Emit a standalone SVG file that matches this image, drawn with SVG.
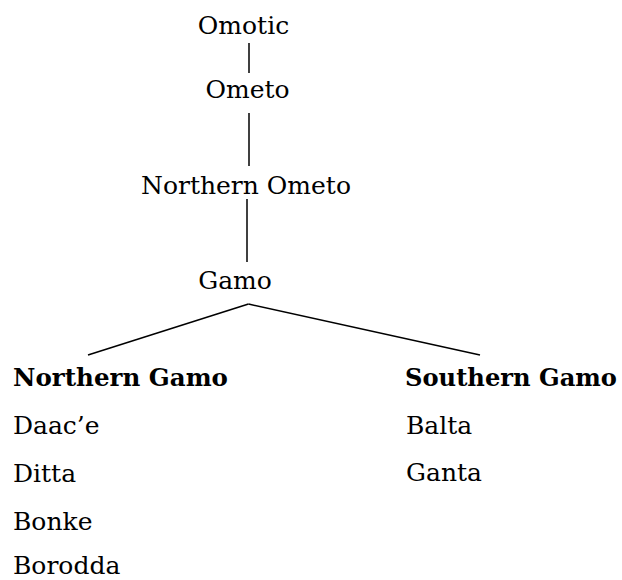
<svg xmlns="http://www.w3.org/2000/svg" width="622" height="580" viewBox="0 0 622 580">
<style>
text{font-family:"DejaVu Serif","Liberation Serif",serif;font-size:25px;fill:#000}
.c{text-anchor:middle}
.b{font-weight:bold;font-size:24.5px}
line{stroke:#000;stroke-width:1.5}
</style>
<rect width="622" height="580" fill="#fff"/>
<g id="connectors">
<line x1="249" y1="43" x2="249" y2="73"/>
<line x1="249" y1="113" x2="249" y2="166"/>
<line x1="247" y1="199" x2="247" y2="262"/>
<line x1="88" y1="355" x2="248.5" y2="304"/>
<line x1="248.5" y1="304" x2="480" y2="355"/>
</g>
<g id="omotic"><text class="c" x="243.5" y="34">Omotic</text></g>
<g id="ometo"><text class="c" x="247.5" y="98">Ometo</text></g>
<g id="northern-ometo"><text class="c" x="246" y="194">Northern Ometo</text></g>
<g id="gamo"><text class="c" x="235" y="289">Gamo</text></g>
<g id="northern-gamo">
<text class="b" x="13" y="386" textLength="215" lengthAdjust="spacingAndGlyphs">Northern Gamo</text>
<text x="13" y="434">Daac’e</text>
<text x="13" y="482">Ditta</text>
<text x="13" y="530">Bonke</text>
<text x="13" y="574">Borodda</text>
</g>
<g id="southern-gamo">
<text class="b" x="405" y="386" textLength="212" lengthAdjust="spacingAndGlyphs">Southern Gamo</text>
<text x="406" y="433.5">Balta</text>
<text x="406" y="481">Ganta</text>
</g>
</svg>
